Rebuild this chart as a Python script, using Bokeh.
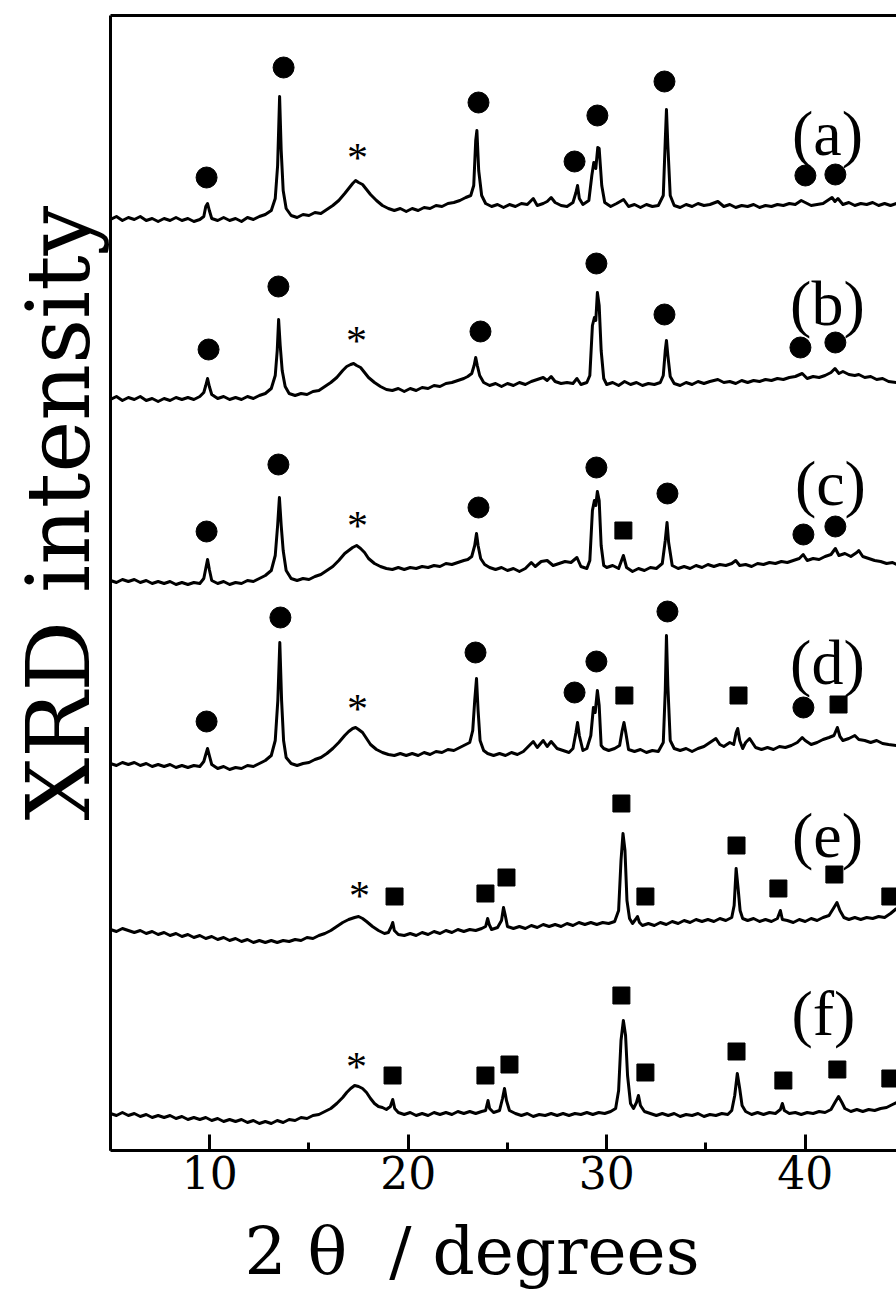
from bokeh.plotting import figure
from bokeh.models import Range1d, FixedTicker, LinearAxis
from bokeh.core.properties import value
from bokeh.embed import file_html
from bokeh.resources import INLINE

SERIF = "Liberation Serif"
WIDE = "DejaVu Serif"
NB = "\u00a0"

# ---- XRD patterns: (2theta in degrees, stacked intensity) ----
trace_a = [(5.0, 931), (5.3, 934), (5.6, 930), (5.9, 933), (6.2, 931), (6.5, 934), (6.8, 930), (7.1, 932), (7.4, 929), (7.7, 932), (8.0, 930), (8.3, 933), (8.6, 930), (8.9, 932), (9.2, 929), (9.5, 931), (9.7, 934), (9.8, 944), (9.89, 947), (9.98, 940), (10.1, 932), (10.4, 930), (10.7, 933), (11.0, 930), (11.3, 932), (11.6, 929), (11.9, 933), (12.2, 931), (12.5, 934), (12.8, 936), (13.1, 940), (13.3, 952), (13.42, 985), (13.52, 1054), (13.6, 1000), (13.7, 960), (13.85, 942), (14.1, 935), (14.4, 933), (14.7, 936), (15.0, 935), (15.3, 938), (15.6, 937), (15.9, 941), (16.2, 945), (16.5, 950), (16.8, 957), (17.0, 962), (17.2, 967), (17.35, 970), (17.5, 968), (17.7, 966), (17.9, 961), (18.1, 956), (18.4, 950), (18.7, 945), (19.0, 942), (19.3, 940), (19.6, 942), (19.9, 939), (20.2, 942), (20.5, 940), (20.8, 943), (21.1, 942), (21.4, 945), (21.7, 944), (22.0, 947), (22.3, 948), (22.6, 950), (22.9, 953), (23.15, 955), (23.3, 965), (23.4, 1010), (23.46, 1020), (23.55, 980), (23.7, 955), (23.9, 947), (24.2, 944), (24.5, 946), (24.8, 943), (25.1, 946), (25.4, 944), (25.7, 947), (26.0, 946), (26.3, 952), (26.5, 945), (26.8, 947), (27.0, 949), (27.2, 953), (27.4, 948), (27.7, 945), (28.0, 944), (28.3, 948), (28.45, 958), (28.53, 965), (28.62, 952), (28.8, 946), (29.1, 950), (29.25, 975), (29.35, 988), (29.45, 982), (29.55, 1003), (29.62, 1002), (29.75, 965), (29.9, 948), (30.2, 944), (30.5, 947), (30.85, 951), (31.1, 944), (31.4, 946), (31.7, 943), (32.0, 946), (32.3, 944), (32.6, 945), (32.85, 955), (32.95, 1010), (33.01, 1041), (33.08, 1005), (33.2, 955), (33.4, 945), (33.7, 943), (34.0, 946), (34.3, 944), (34.6, 947), (34.9, 945), (35.2, 946), (35.6, 949), (35.9, 944), (36.2, 946), (36.5, 943), (36.8, 945), (37.1, 944), (37.4, 946), (37.7, 943), (38.0, 945), (38.3, 944), (38.6, 946), (38.9, 945), (39.2, 947), (39.5, 946), (39.8, 950), (40.0, 948), (40.3, 945), (40.6, 946), (40.9, 947), (41.2, 951), (41.35, 953), (41.5, 949), (41.65, 952), (41.9, 946), (42.2, 948), (42.5, 945), (42.8, 947), (43.1, 946), (43.4, 948), (43.7, 945), (44.0, 947), (44.3, 945), (44.6, 947)]

trace_b = [(5.0, 751), (5.3, 754), (5.6, 750), (5.9, 753), (6.2, 751), (6.5, 754), (6.8, 750), (7.1, 752), (7.4, 749), (7.7, 752), (8.0, 750), (8.3, 753), (8.6, 751), (8.9, 753), (9.2, 751), (9.5, 754), (9.7, 758), (9.8, 765), (9.89, 772), (9.98, 764), (10.1, 756), (10.4, 752), (10.7, 754), (11.0, 751), (11.3, 753), (11.6, 751), (11.9, 754), (12.2, 752), (12.5, 755), (12.8, 757), (13.1, 762), (13.3, 775), (13.4, 800), (13.47, 831), (13.55, 805), (13.65, 780), (13.8, 764), (14.0, 757), (14.3, 755), (14.6, 757), (14.9, 756), (15.2, 759), (15.5, 760), (15.8, 764), (16.1, 768), (16.4, 773), (16.7, 780), (16.9, 784), (17.1, 786), (17.25, 787), (17.4, 785), (17.6, 783), (17.8, 778), (18.0, 773), (18.3, 768), (18.6, 764), (18.9, 761), (19.2, 760), (19.5, 762), (19.8, 759), (20.1, 762), (20.4, 760), (20.7, 763), (21.0, 762), (21.3, 765), (21.6, 764), (21.9, 767), (22.2, 768), (22.5, 770), (22.8, 772), (23.0, 774), (23.2, 777), (23.32, 785), (23.4, 793), (23.48, 785), (23.6, 775), (23.8, 768), (24.1, 765), (24.4, 767), (24.7, 764), (25.0, 767), (25.3, 765), (25.6, 768), (25.9, 766), (26.2, 769), (26.5, 771), (26.8, 773), (27.0, 770), (27.2, 774), (27.4, 769), (27.7, 767), (28.0, 768), (28.3, 767), (28.5, 772), (28.7, 766), (29.0, 768), (29.15, 775), (29.28, 825), (29.38, 833), (29.45, 830), (29.53, 858), (29.62, 845), (29.72, 800), (29.85, 772), (30.0, 766), (30.3, 768), (30.6, 765), (30.9, 769), (31.2, 766), (31.5, 768), (31.8, 765), (32.1, 767), (32.4, 766), (32.7, 768), (32.85, 775), (32.95, 800), (33.01, 810), (33.08, 795), (33.2, 774), (33.4, 767), (33.7, 765), (34.0, 768), (34.3, 766), (34.6, 769), (34.9, 767), (35.2, 769), (35.6, 771), (35.9, 768), (36.2, 769), (36.5, 767), (36.8, 770), (37.1, 768), (37.4, 770), (37.7, 769), (38.0, 771), (38.3, 770), (38.6, 772), (38.9, 771), (39.2, 773), (39.5, 774), (39.85, 777), (40.1, 772), (40.4, 774), (40.7, 773), (41.0, 775), (41.3, 778), (41.5, 782), (41.7, 777), (41.9, 779), (42.2, 776), (42.5, 775), (42.7, 776), (43.0, 773), (43.3, 774), (43.6, 771), (43.9, 772), (44.2, 769), (44.6, 768)]

trace_c = [(5.0, 570), (5.3, 568), (5.6, 571), (5.9, 569), (6.2, 571), (6.5, 568), (6.8, 570), (7.1, 567), (7.4, 569), (7.7, 567), (8.0, 569), (8.3, 566), (8.6, 568), (8.9, 566), (9.2, 568), (9.5, 567), (9.7, 572), (9.8, 582), (9.89, 591), (9.98, 581), (10.1, 570), (10.4, 567), (10.7, 569), (11.0, 566), (11.3, 568), (11.6, 567), (11.9, 570), (12.2, 569), (12.5, 572), (12.8, 575), (13.1, 580), (13.3, 595), (13.42, 625), (13.51, 653), (13.6, 625), (13.7, 600), (13.85, 580), (14.1, 572), (14.4, 570), (14.7, 572), (15.0, 571), (15.3, 574), (15.6, 576), (15.9, 580), (16.2, 584), (16.5, 590), (16.8, 597), (17.0, 600), (17.2, 603), (17.4, 605), (17.6, 602), (17.8, 598), (18.0, 592), (18.3, 587), (18.6, 584), (18.9, 582), (19.2, 581), (19.5, 583), (19.8, 581), (20.1, 583), (20.4, 582), (20.7, 584), (21.0, 583), (21.3, 585), (21.6, 584), (21.9, 587), (22.2, 586), (22.5, 588), (22.8, 590), (23.0, 591), (23.2, 594), (23.35, 605), (23.44, 617), (23.52, 605), (23.65, 592), (23.85, 586), (24.1, 583), (24.4, 581), (24.7, 583), (25.0, 580), (25.3, 582), (25.6, 579), (25.9, 582), (26.2, 588), (26.4, 584), (26.7, 589), (27.0, 590), (27.3, 585), (27.6, 587), (27.9, 589), (28.2, 588), (28.5, 593), (28.7, 584), (29.0, 582), (29.15, 590), (29.28, 640), (29.38, 650), (29.45, 645), (29.53, 659), (29.62, 650), (29.72, 605), (29.85, 585), (30.0, 583), (30.3, 585), (30.6, 582), (30.84, 595), (31.0, 583), (31.3, 579), (31.6, 582), (31.9, 580), (32.2, 583), (32.5, 582), (32.8, 587), (32.95, 610), (33.04, 628), (33.12, 608), (33.3, 585), (33.6, 582), (33.9, 584), (34.2, 582), (34.5, 585), (34.8, 583), (35.1, 586), (35.4, 584), (35.7, 586), (36.0, 585), (36.3, 587), (36.5, 590), (36.7, 585), (37.0, 586), (37.3, 584), (37.6, 587), (37.9, 586), (38.2, 588), (38.5, 587), (38.8, 589), (39.1, 588), (39.4, 590), (39.7, 592), (39.9, 596), (40.1, 590), (40.4, 592), (40.7, 591), (41.0, 594), (41.3, 596), (41.52, 602), (41.7, 595), (42.0, 597), (42.3, 594), (42.6, 598), (42.7, 600), (42.9, 594), (43.2, 592), (43.5, 590), (43.8, 589), (44.1, 587), (44.4, 588), (44.6, 586)]

trace_d = [(5.0, 387), (5.3, 385), (5.6, 388), (5.9, 386), (6.2, 388), (6.5, 385), (6.8, 387), (7.1, 384), (7.4, 386), (7.7, 384), (8.0, 386), (8.3, 383), (8.6, 385), (8.9, 383), (9.2, 385), (9.5, 384), (9.7, 389), (9.8, 396), (9.89, 402), (9.98, 395), (10.1, 386), (10.4, 382), (10.7, 384), (11.0, 381), (11.3, 383), (11.6, 382), (11.9, 385), (12.2, 384), (12.5, 387), (12.8, 390), (13.1, 395), (13.3, 410), (13.43, 450), (13.53, 508), (13.62, 450), (13.72, 410), (13.85, 393), (14.1, 387), (14.4, 385), (14.7, 387), (15.0, 388), (15.3, 391), (15.6, 393), (15.9, 397), (16.2, 402), (16.5, 408), (16.8, 415), (17.0, 419), (17.2, 422), (17.35, 423), (17.5, 421), (17.7, 418), (17.9, 412), (18.1, 406), (18.4, 401), (18.7, 398), (19.0, 396), (19.3, 395), (19.6, 397), (19.9, 395), (20.2, 397), (20.5, 395), (20.8, 398), (21.1, 396), (21.4, 399), (21.7, 398), (22.0, 401), (22.3, 400), (22.6, 403), (22.9, 406), (23.1, 408), (23.25, 420), (23.35, 450), (23.44, 472), (23.52, 440), (23.62, 410), (23.8, 400), (24.0, 397), (24.3, 395), (24.6, 397), (24.9, 395), (25.2, 398), (25.5, 396), (25.8, 399), (26.1, 405), (26.3, 409), (26.5, 403), (26.8, 410), (27.0, 404), (27.2, 409), (27.5, 402), (27.8, 400), (28.1, 398), (28.3, 402), (28.45, 418), (28.53, 428), (28.62, 415), (28.8, 400), (29.0, 402), (29.2, 415), (29.33, 443), (29.42, 438), (29.53, 460), (29.62, 445), (29.72, 405), (29.85, 402), (30.1, 400), (30.4, 402), (30.65, 405), (30.78, 420), (30.87, 428), (30.96, 418), (31.1, 401), (31.4, 399), (31.7, 401), (32.0, 398), (32.3, 400), (32.6, 399), (32.85, 408), (32.95, 460), (33.01, 515), (33.08, 465), (33.2, 410), (33.4, 402), (33.7, 400), (34.0, 402), (34.3, 399), (34.6, 402), (34.9, 404), (35.2, 408), (35.5, 412), (35.7, 406), (35.9, 404), (36.2, 408), (36.4, 406), (36.52, 418), (36.6, 422), (36.7, 410), (36.85, 402), (37.0, 408), (37.2, 412), (37.5, 403), (37.8, 401), (38.1, 403), (38.4, 401), (38.7, 404), (39.0, 403), (39.3, 405), (39.6, 408), (39.85, 413), (40.0, 410), (40.3, 406), (40.6, 408), (40.9, 411), (41.2, 413), (41.45, 415), (41.62, 423), (41.75, 414), (41.9, 410), (42.2, 412), (42.5, 415), (42.7, 411), (43.0, 410), (43.3, 408), (43.6, 410), (43.9, 407), (44.2, 406), (44.6, 405)]

trace_e = [(5.0, 221), (5.3, 219), (5.6, 222), (5.9, 220), (6.2, 218), (6.5, 220), (6.8, 217), (7.1, 219), (7.4, 216), (7.7, 218), (8.0, 215), (8.3, 217), (8.6, 214), (8.9, 216), (9.2, 213), (9.5, 215), (9.8, 212), (10.1, 214), (10.4, 211), (10.7, 213), (11.0, 210), (11.3, 212), (11.6, 209), (11.9, 211), (12.2, 208), (12.5, 210), (12.8, 208), (13.1, 210), (13.4, 208), (13.7, 210), (14.0, 209), (14.3, 211), (14.6, 210), (14.9, 213), (15.2, 212), (15.5, 215), (15.8, 217), (16.1, 220), (16.4, 224), (16.7, 228), (17.0, 231), (17.3, 233), (17.5, 234), (17.7, 232), (17.9, 229), (18.2, 224), (18.5, 220), (18.8, 217), (19.0, 218), (19.15, 224), (19.22, 228), (19.3, 220), (19.5, 216), (19.8, 215), (20.1, 217), (20.4, 215), (20.7, 218), (21.0, 216), (21.3, 219), (21.6, 217), (21.9, 220), (22.2, 218), (22.5, 221), (22.8, 219), (23.1, 221), (23.4, 220), (23.7, 222), (23.9, 224), (24.0, 232), (24.08, 226), (24.2, 221), (24.5, 223), (24.7, 230), (24.8, 243), (24.88, 236), (25.0, 224), (25.3, 222), (25.6, 224), (25.9, 222), (26.2, 225), (26.5, 223), (26.8, 226), (27.1, 224), (27.4, 226), (27.7, 224), (28.0, 227), (28.3, 225), (28.6, 228), (28.9, 226), (29.2, 228), (29.5, 226), (29.8, 228), (30.1, 227), (30.4, 229), (30.6, 240), (30.72, 290), (30.82, 317), (30.92, 300), (31.02, 250), (31.15, 232), (31.3, 227), (31.45, 231), (31.55, 234), (31.65, 228), (31.8, 225), (32.1, 227), (32.4, 225), (32.7, 228), (33.0, 226), (33.3, 229), (33.6, 227), (33.9, 230), (34.2, 228), (34.5, 231), (34.8, 229), (35.1, 231), (35.4, 229), (35.7, 232), (36.0, 230), (36.3, 233), (36.42, 245), (36.52, 282), (36.62, 262), (36.72, 240), (36.85, 232), (37.1, 230), (37.4, 232), (37.7, 229), (38.0, 231), (38.3, 229), (38.6, 232), (38.75, 240), (38.85, 231), (39.1, 230), (39.4, 228), (39.7, 231), (40.0, 229), (40.3, 232), (40.6, 230), (40.9, 233), (41.2, 235), (41.45, 243), (41.6, 248), (41.75, 240), (41.95, 233), (42.2, 231), (42.5, 233), (42.8, 231), (43.1, 233), (43.4, 232), (43.7, 234), (44.0, 233), (44.3, 237), (44.6, 242)]

trace_f = [(5.0, 37), (5.3, 35), (5.6, 38), (5.9, 35), (6.2, 37), (6.5, 34), (6.8, 36), (7.1, 33), (7.4, 35), (7.7, 33), (8.0, 35), (8.3, 32), (8.6, 34), (8.9, 31), (9.2, 33), (9.5, 31), (9.8, 33), (10.1, 30), (10.4, 32), (10.7, 29), (11.0, 31), (11.3, 29), (11.6, 31), (11.9, 28), (12.2, 30), (12.5, 27), (12.8, 29), (13.1, 27), (13.4, 30), (13.7, 28), (14.0, 31), (14.3, 30), (14.6, 33), (14.9, 32), (15.2, 35), (15.5, 36), (15.8, 39), (16.1, 42), (16.4, 47), (16.7, 53), (16.9, 58), (17.1, 62), (17.3, 65), (17.5, 64), (17.7, 62), (17.9, 58), (18.1, 52), (18.3, 47), (18.5, 44), (18.7, 43), (18.9, 41), (19.1, 44), (19.22, 51), (19.32, 42), (19.5, 38), (19.8, 36), (20.1, 38), (20.4, 35), (20.7, 37), (21.0, 35), (21.3, 38), (21.6, 36), (21.9, 38), (22.2, 36), (22.5, 39), (22.8, 37), (23.1, 39), (23.4, 37), (23.7, 39), (23.9, 40), (24.02, 50), (24.1, 42), (24.3, 38), (24.6, 40), (24.75, 52), (24.85, 62), (24.95, 50), (25.1, 40), (25.4, 37), (25.7, 35), (26.0, 37), (26.3, 34), (26.6, 36), (26.9, 35), (27.2, 37), (27.5, 35), (27.8, 37), (28.1, 35), (28.4, 37), (28.7, 36), (29.0, 38), (29.3, 36), (29.6, 38), (29.9, 37), (30.2, 39), (30.45, 42), (30.6, 60), (30.72, 110), (30.84, 130), (30.95, 115), (31.05, 75), (31.2, 47), (31.35, 42), (31.5, 48), (31.6, 55), (31.7, 45), (31.9, 39), (32.2, 37), (32.5, 35), (32.8, 37), (33.1, 35), (33.4, 37), (33.7, 34), (34.0, 36), (34.3, 35), (34.6, 37), (34.9, 34), (35.2, 36), (35.5, 35), (35.8, 37), (36.1, 36), (36.3, 40), (36.45, 55), (36.58, 77), (36.7, 62), (36.82, 45), (37.0, 39), (37.3, 36), (37.6, 38), (37.9, 36), (38.2, 38), (38.5, 37), (38.75, 41), (38.85, 47), (38.95, 40), (39.2, 37), (39.5, 38), (39.8, 36), (40.1, 38), (40.4, 37), (40.7, 39), (41.0, 38), (41.3, 41), (41.5, 48), (41.68, 54), (41.85, 48), (42.0, 42), (42.3, 39), (42.6, 41), (42.9, 39), (43.2, 41), (43.5, 40), (43.8, 42), (44.1, 43), (44.4, 46), (44.6, 48)]

# ---- phase markers ----
dot_x = [9.84, 13.72, 23.54, 28.38, 29.53, 32.91, 40.01, 41.52,
         9.94, 13.46, 23.64, 29.48, 32.91, 39.76, 41.52,
         9.84, 13.46, 23.54, 29.48, 33.06, 39.91, 41.52,
         9.84, 13.56, 23.39, 28.38, 29.48, 33.06, 39.91]
dot_y = [973, 1083, 1048, 989, 1035, 1069, 975, 976,
         801, 864, 819, 887, 836, 803, 808,
         619, 686, 643, 683, 657, 616, 624,
         429, 533, 498, 458, 489, 539, 443]
square_x = [30.84,
            30.89, 36.64, 41.68,
            19.31, 23.89, 24.95, 30.74, 31.95, 36.54, 38.65, 41.47, 44.29,
            19.21, 23.89, 25.10, 30.74, 31.95, 36.54, 38.90, 41.62, 44.29]
square_y = [620,
            455, 455, 446,
            254, 257, 273, 347, 254, 305, 262, 276, 254,
            75, 75, 86, 155, 78, 99, 70, 81, 72]
star_x = [17.44, 17.39, 17.44, 17.44, 17.54, 17.39]
star_y = [1002, 819, 634, 451, 264, 93]

panel_text = ["(a)", "(b)", "(c)", "(d)", "(e)", "(f)"]
panel_x = [41.12, 41.12, 41.27, 41.12, 41.12, 40.92]
panel_y = [1017, 847, 667, 488, 315, 137]

x_ticks = [10, 20, 30, 40]
x_minor = [5, 15, 25, 35]

x_title = "2" + NB + "θ" + NB + NB + "/" + NB + "degrees" + NB * 3
y_title = NB * 5 + "XRD intensity"

p = figure(width=896, height=1292, output_backend="svg", toolbar_location=None,
           x_range=Range1d(5, 44.6), y_range=Range1d(0, 1135),
           min_border_left=110, min_border_right=0, min_border_top=15,
           min_border_bottom=142)
p.outline_line_color = None
p.grid.visible = False
p.background_fill_color = "white"
p.border_fill_color = "white"

xa = p.xaxis[0]
xa.ticker = FixedTicker(ticks=x_ticks, minor_ticks=x_minor)
xa.axis_line_width = 3
xa.major_tick_in = 16
xa.major_tick_out = 0
xa.minor_tick_in = 8
xa.minor_tick_out = 0
xa.major_tick_line_width = 3
xa.minor_tick_line_width = 3
xa.major_label_text_font = WIDE
xa.major_label_text_font_size = "44px"
xa.major_label_text_color = "black"
xa.major_label_standoff = 5
xa.axis_label = x_title
xa.axis_label_text_font = WIDE
xa.axis_label_text_font_style = "normal"
xa.axis_label_text_font_size = "66px"
xa.axis_label_text_color = "black"
xa.axis_label_standoff = 21

ya = p.yaxis[0]
ya.ticker = FixedTicker(ticks=[])
ya.axis_line_width = 3
ya.major_tick_line_color = None
ya.minor_tick_line_color = None
ya.major_label_text_font_size = "0px"
ya.axis_label = y_title
ya.axis_label_text_font = WIDE
ya.axis_label_text_font_style = "normal"
ya.axis_label_text_font_size = "88px"
ya.axis_label_text_color = "black"
ya.axis_label_standoff = 1

top = LinearAxis(ticker=FixedTicker(ticks=[]), axis_line_width=3,
                 major_tick_line_color=None, minor_tick_line_color=None,
                 major_label_text_font_size="0px")
p.add_layout(top, "above")

for tr in [trace_a, trace_b, trace_c, trace_d, trace_e, trace_f]:
    xs = [t[0] for t in tr]
    ys = [t[1] for t in tr]
    p.line(xs, ys, line_color="black", line_width=3, line_join="round")

p.scatter(dot_x, dot_y, marker="circle", size=21, fill_color="black", line_color="black")
p.scatter(square_x, square_y, marker="square", size=17, fill_color="black", line_color="black")
p.text(star_x, star_y, text=["*"] * len(star_x), text_font=value(SERIF),
       text_font_size="42px", text_align="center", text_baseline="middle",
       y_offset=9, text_color="black")

p.text(panel_x, panel_y, text=panel_text, text_font=value(SERIF), text_font_size="64px",
       text_align="center", text_baseline="middle", text_color="black")

open("out.html", "w").write(file_html(p, INLINE))
